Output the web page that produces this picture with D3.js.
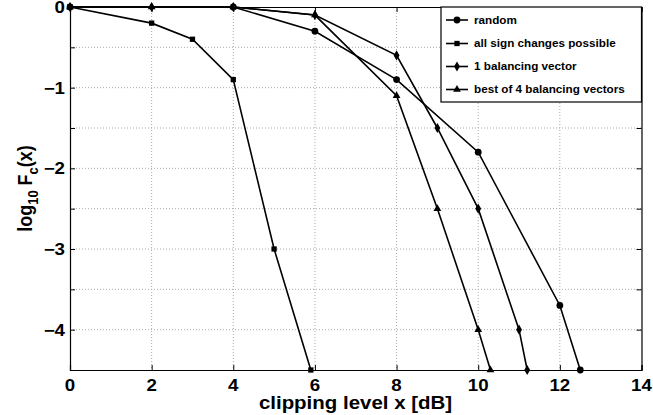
<!DOCTYPE html>
<html><head><meta charset="utf-8">
<script src="https://cdn.jsdelivr.net/npm/d3@7"></script>
<style>body{margin:0;background:#fff}svg{display:block}</style>
</head><body>
<script>
const seriesNames = ["random","all sign changes possible","1 balancing vector","best of 4 balancing vectors"];
const markerTypes = ["circle","square","diamond","triangle"];
const randomX = [0, 4, 6, 8, 10, 12, 12.5];
const randomY = [0, 0, -0.3, -0.9, -1.8, -3.7, -4.5];
const signX = [0, 2, 3, 4, 5, 5.9];
const signY = [0, -0.2, -0.4, -0.9, -3.0, -4.5];
const bal1X = [0, 2, 4, 6, 8, 9, 10, 11, 11.2];
const bal1Y = [0, 0, 0, -0.1, -0.6, -1.5, -2.5, -4.0, -4.5];
const best4X = [0, 2, 4, 6, 8, 9, 10, 10.3];
const best4Y = [0, 0, 0, -0.1, -1.1, -2.5, -4.0, -4.5];
const xTicks = [0, 2, 4, 6, 8, 10, 12, 14];
const yTicks = [0, -0.5, -1, -1.5, -2, -2.5, -3, -3.5, -4, -4.5];
const yLabeled = [0, -1, -2, -3, -4];

const W = 653, H = 415;
const SX = 1.17; // horizontal text stretch
const m = {l:70, r:641.5, t:7, b:370};
const svg = d3.select("body").append("svg").attr("width", W).attr("height", H)
  .style("font-family", "Liberation Sans, Arial, sans-serif");
const x = d3.scaleLinear().domain([0,14]).range([m.l, m.r]);
const y = d3.scaleLinear().domain([-4.5,0]).range([m.b, m.t]);

function stext(px, py, str, size, anchor){
  return svg.append("text").attr("transform", `translate(${px},${py}) scale(${SX},1)`)
    .attr("text-anchor", anchor).style("font-size", size+"px").style("font-weight","bold")
    .attr("fill","#000").text(str);
}

// grid
const g = svg.append("g");
g.selectAll(".gx").data(xTicks.slice(1,-1)).join("line")
  .attr("x1", d=>x(d)).attr("x2", d=>x(d)).attr("y1", m.t).attr("y2", m.b)
  .attr("stroke","#aaa").attr("stroke-width",1).attr("stroke-dasharray","1,2");
g.selectAll(".gy").data(yTicks.slice(1,-1)).join("line")
  .attr("y1", d=>y(d)).attr("y2", d=>y(d)).attr("x1", m.l).attr("x2", m.r)
  .attr("stroke","#aaa").attr("stroke-width",1).attr("stroke-dasharray","1,2");

// axes (ticks inward, labels drawn separately)
const xAxisB = d3.axisBottom(x).tickValues(xTicks).tickSize(-5).tickFormat("");
const xAxisT = d3.axisTop(x).tickValues(xTicks).tickSize(-5).tickFormat("");
const yAxisL = d3.axisLeft(y).tickValues(yTicks).tickSize(-5).tickFormat("");
const yAxisR = d3.axisRight(y).tickValues(yTicks).tickSize(-5).tickFormat("");
function style(sel){
  sel.select(".domain").attr("stroke","#000").attr("stroke-width",1.2);
  sel.selectAll(".tick line").attr("stroke","#000").attr("stroke-width",1);
}
svg.append("g").attr("transform",`translate(0,${m.b})`).call(xAxisB).call(style);
svg.append("g").attr("transform",`translate(0,${m.t})`).call(xAxisT).call(style);
svg.append("g").attr("transform",`translate(${m.l},0)`).call(yAxisL).call(style);
svg.append("g").attr("transform",`translate(${m.r},0)`).call(yAxisR).call(style);

xTicks.forEach(v => stext(x(v), 391, String(v), 16, "middle"));
yLabeled.forEach(v => stext(m.l - 5, y(v) + 6, v < 0 ? "\u2212" + Math.abs(v) : String(v), 16, "end"));

// series
const series = [
  {xs: randomX, ys: randomY},
  {xs: signX, ys: signY},
  {xs: bal1X, ys: bal1Y},
  {xs: best4X, ys: best4Y}
];
const line = d3.line().x(d=>x(d[0])).y(d=>y(d[1]));
const sym = {
  circle: d3.symbol(d3.symbolCircle, 36),
  square: d3.symbol(d3.symbolSquare, 28),
  diamond: d3.symbol(d3.symbolDiamond, 30),
  triangle: d3.symbol(d3.symbolTriangle, 26)
};
series.forEach((s, i) => {
  const pts = s.xs.map((v,j)=>[v, s.ys[j]]);
  svg.append("path").datum(pts).attr("d", line).attr("fill","none").attr("stroke","#000").attr("stroke-width",1.6);
  svg.append("g").selectAll("path").data(pts).join("path")
    .attr("transform", d=>`translate(${x(d[0])},${y(d[1])})`)
    .attr("d", sym[markerTypes[i]]()).attr("fill","#000");
});

// legend
const lg = svg.append("g");
lg.append("rect").attr("x",441).attr("y",m.t).attr("width",m.r-441).attr("height",95)
  .attr("fill","#fff").attr("stroke","#000").attr("stroke-width",1.2);
const legY = [20, 43.5, 66.5, 89.5];
seriesNames.forEach((n,i)=>{
  lg.append("line").attr("x1",446).attr("x2",468).attr("y1",legY[i]).attr("y2",legY[i]).attr("stroke","#000").attr("stroke-width",1.6);
  lg.append("path").attr("transform",`translate(457,${legY[i]})`).attr("d", sym[markerTypes[i]]()).attr("fill","#000");
  stext(474, legY[i]+3.5, n, 10, "start");
});

// axis labels
stext(355.5, 409, "clipping level x [dB]", 17.5, "middle");
const yl = svg.append("text").attr("transform",`translate(32,${(m.t+m.b)/2}) rotate(-90) scale(1,${SX})`).attr("text-anchor","middle")
  .style("font-size","18px").style("font-weight","bold");
yl.append("tspan").text("log");
yl.append("tspan").text("10").attr("dy",5).style("font-size","13px");
yl.append("tspan").text(" F").attr("dy",-5);
yl.append("tspan").text("c").attr("dy",5).style("font-size","13px");
yl.append("tspan").text("(x)").attr("dy",-5);
</script>
</body></html>
